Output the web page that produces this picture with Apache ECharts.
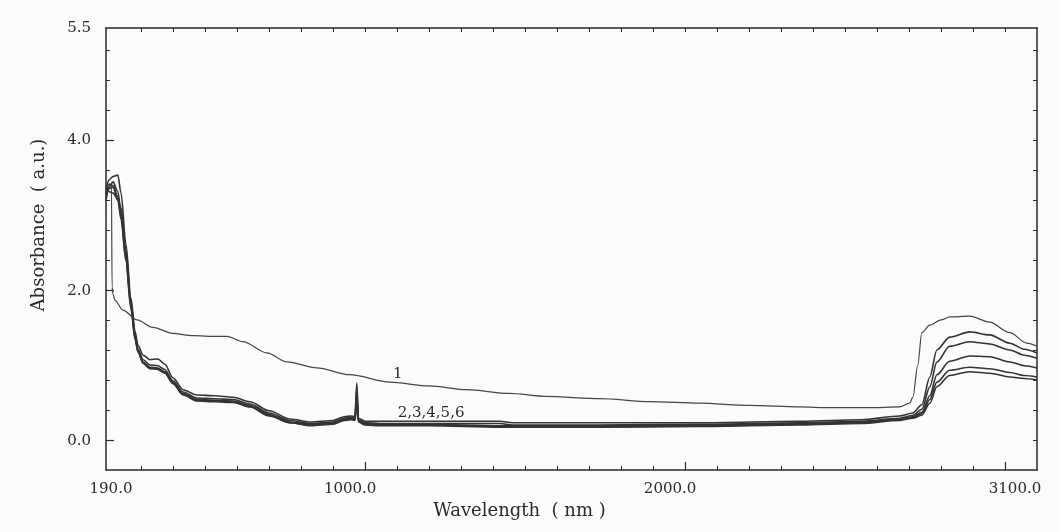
<!DOCTYPE html>
<html>
<head>
<meta charset="utf-8">
<script src="https://cdn.jsdelivr.net/npm/echarts@6/dist/echarts.min.js"></script>
<style>
  html, body { margin: 0; padding: 0; background: #fbfbfb; }
  #chart { width: 1060px; height: 532px; }
</style>
</head>
<body>
<div id="chart"></div>
<script>
// Absorbance spectra, 190–3100 nm
const xTickLabels = [190, 1000, 2000, 3100];
const xMinorTicks = [300, 400, 500, 600, 700, 800, 900, 1000, 1100, 1200, 1300, 1400, 1500, 1600, 1700, 1800, 1900, 2000,
  2100, 2200, 2300, 2400, 2500, 2600, 2700, 2800, 2900, 3000];
const xMajorTicks = [1000, 2000, 3000];
const yTickLabels = [0, 2, 4, 5.5];
const yMinorTicks = [0, 0.4, 0.8, 1.2, 1.6, 2.0, 2.4, 2.8, 3.2, 3.6, 4.0, 4.4, 4.8, 5.2];
const yMajorTicks = [0, 2, 4];

// sample 1
const wavelength1 = [190, 200, 207, 209, 212, 218, 243, 287, 337, 399, 462, 537, 568, 618, 693, 756, 849, 952, 1077, 1200,
  1318, 1450, 1568, 1734, 1890, 2046, 2202, 2359, 2452, 2577, 2671, 2702, 2712, 2727, 2740, 2765, 2800, 2827, 2890, 2952,
  3015, 3068, 3100];
const absorbance1 = [3.25, 3.38, 3.42, 2.05, 1.95, 1.87, 1.74, 1.61, 1.51, 1.43, 1.40, 1.39, 1.39, 1.32, 1.17, 1.05, 0.97,
  0.88, 0.78, 0.73, 0.68, 0.63, 0.59, 0.56, 0.52, 0.50, 0.47, 0.45, 0.44, 0.44, 0.45, 0.50, 0.58, 1.00, 1.44, 1.54, 1.61,
  1.65, 1.66, 1.58, 1.44, 1.30, 1.26];

// samples 2–6 share one wavelength grid
const wavelength = [190, 200, 212, 227, 237, 252, 268, 281, 290, 306, 327, 352, 374, 399, 431, 474, 530, 587, 640, 700,
  765, 830, 900, 935, 955, 968, 974, 979, 1000, 1046, 1200, 1421, 1460, 1734, 2046, 2359, 2550, 2671, 2712, 2740, 2765,
  2787, 2827, 2890, 2952, 3015, 3060, 3100];
const absorbance2 = [3.35, 3.48, 3.52, 3.54, 3.30, 2.63, 1.90, 1.45, 1.27, 1.14, 1.08, 1.09, 1.02, 0.84, 0.68, 0.61,
  0.60, 0.58, 0.52, 0.40, 0.29, 0.25, 0.27, 0.32, 0.33, 0.32, 0.77, 0.30, 0.26, 0.26, 0.26, 0.26, 0.24, 0.24, 0.24, 0.26,
  0.28, 0.33, 0.37, 0.48, 0.85, 1.21, 1.38, 1.45, 1.41, 1.30, 1.22, 1.17];
const absorbance3 = [3.20, 3.38, 3.45, 3.32, 3.05, 2.48, 1.82, 1.40, 1.22, 1.08, 1.01, 1.00, 0.95, 0.80, 0.65, 0.57,
  0.56, 0.55, 0.49, 0.37, 0.27, 0.23, 0.25, 0.30, 0.31, 0.30, 0.70, 0.28, 0.24, 0.23, 0.23, 0.23, 0.21, 0.21, 0.22, 0.24,
  0.26, 0.30, 0.34, 0.42, 0.72, 1.05, 1.26, 1.32, 1.29, 1.21, 1.14, 1.10];
const absorbance4 = [3.40, 3.32, 3.30, 3.22, 3.10, 2.55, 1.85, 1.38, 1.20, 1.05, 0.98, 0.97, 0.92, 0.78, 0.63, 0.55,
  0.54, 0.53, 0.47, 0.35, 0.25, 0.22, 0.24, 0.29, 0.30, 0.29, 0.62, 0.27, 0.23, 0.22, 0.22, 0.20, 0.20, 0.20, 0.21, 0.23,
  0.25, 0.29, 0.32, 0.38, 0.60, 0.88, 1.06, 1.13, 1.12, 1.05, 1.00, 0.97];
const absorbance5 = [3.28, 3.42, 3.40, 3.25, 3.00, 2.42, 1.78, 1.36, 1.19, 1.04, 0.97, 0.96, 0.91, 0.77, 0.62, 0.54,
  0.53, 0.52, 0.46, 0.34, 0.24, 0.21, 0.23, 0.28, 0.29, 0.28, 0.55, 0.26, 0.22, 0.21, 0.21, 0.19, 0.19, 0.19, 0.20, 0.22,
  0.24, 0.28, 0.31, 0.36, 0.55, 0.78, 0.94, 0.98, 0.96, 0.91, 0.87, 0.85];
const absorbance6 = [3.30, 3.36, 3.38, 3.20, 2.95, 2.40, 1.75, 1.35, 1.18, 1.03, 0.96, 0.95, 0.90, 0.76, 0.61, 0.53,
  0.52, 0.51, 0.45, 0.33, 0.24, 0.20, 0.22, 0.27, 0.28, 0.27, 0.50, 0.25, 0.21, 0.20, 0.20, 0.18, 0.18, 0.18, 0.19, 0.21,
  0.23, 0.27, 0.30, 0.34, 0.50, 0.72, 0.87, 0.92, 0.90, 0.85, 0.83, 0.81];

// curve annotations: [text, wavelength, absorbance]
const curveLabels = [['1', 1102, 0.89], ['2,3,4,5,6', 1206, 0.37]];

const FONT = 'DejaVu Serif';
const INK = '#2a2a2a';
const X_MIN = 190, X_MAX = 3100, Y_MIN = -0.39, Y_MAX = 5.5;
const PLOT = { left: 106, right: 23, top: 28, bottom: 62, show: false };

const pair = (xs, ys) => xs.map((x, i) => [x, ys[i]]);

const chart = echarts.init(document.getElementById('chart'), null, { renderer: 'canvas' });

const lineSeries = (name, data, width, color) => ({
  name, type: 'line', data, xAxisIndex: 0, yAxisIndex: 0,
  showSymbol: false, smooth: 0.3, smoothMonotone: 'x',
  lineStyle: { width, color }, z: 3, silent: true
});

const tickOnly = (values, length, width) => ({
  show: true, inside: true, length, customValues: values,
  lineStyle: { color: INK, width }
});

const frameLine = show => ({ show, onZero: false, lineStyle: { color: INK, width: 1.5 } });

const labelRich = {
  a: { fontFamily: FONT, fontSize: 15, color: INK, padding: [0, 0, 0, 10] },
  b: { fontFamily: FONT, fontSize: 15, color: INK, padding: [0, 30, 0, 0] },
  c: { fontFamily: FONT, fontSize: 15, color: INK, padding: [0, 44, 0, 0] }
};

chart.setOption({
  backgroundColor: '#fbfbfb',
  animation: false,
  // grid 0 holds the data; grid 1 overlays it and only carries the long major ticks
  grid: [Object.assign({}, PLOT), Object.assign({}, PLOT)],
  xAxis: [
    {
      gridIndex: 0, type: 'value', min: X_MIN, max: X_MAX, position: 'bottom',
      axisLine: frameLine(true),
      axisTick: tickOnly(xMinorTicks, 4, 1),
      splitLine: { show: false },
      axisLabel: {
        customValues: xTickLabels, margin: 12,
        fontFamily: FONT, fontSize: 15, color: INK,
        formatter: v => {
          const t = v.toFixed(1);
          if (v === 190) return '{a|' + t + '}';
          if (v === 3100) return '{c|' + t + '}';
          return '{b|' + t + '}';
        },
        rich: labelRich
      },
      name: 'Wavelength  ( nm )', nameLocation: 'middle', nameGap: 27,
      nameTextStyle: { fontFamily: FONT, fontSize: 18, color: INK, padding: [0, 104, 0, 0] }
    },
    {
      gridIndex: 0, type: 'value', min: X_MIN, max: X_MAX, position: 'top',
      axisLine: frameLine(true),
      axisTick: tickOnly(xMinorTicks, 4, 1),
      axisLabel: { show: false }, splitLine: { show: false }
    },
    {
      gridIndex: 1, type: 'value', min: X_MIN, max: X_MAX, position: 'bottom',
      axisLine: frameLine(false), axisTick: tickOnly(xMajorTicks, 8, 1.2),
      axisLabel: { show: false }, splitLine: { show: false }
    }
  ],
  yAxis: [
    {
      gridIndex: 0, type: 'value', min: Y_MIN, max: Y_MAX, position: 'left',
      axisLine: frameLine(true),
      axisTick: tickOnly(yMinorTicks, 4, 1),
      splitLine: { show: false },
      axisLabel: {
        customValues: yTickLabels, margin: 15,
        fontFamily: FONT, fontSize: 15, color: INK,
        formatter: v => v.toFixed(1)
      },
      name: 'Absorbance  ( a.u.)', nameLocation: 'middle', nameGap: 58,
      nameTextStyle: { fontFamily: FONT, fontSize: 18, color: INK, padding: [0, 0, 0, 48] }
    },
    {
      gridIndex: 0, type: 'value', min: Y_MIN, max: Y_MAX, position: 'right',
      axisLine: frameLine(true),
      axisTick: tickOnly(yMinorTicks, 4, 1),
      axisLabel: { show: false }, splitLine: { show: false }
    },
    {
      gridIndex: 1, type: 'value', min: Y_MIN, max: Y_MAX, position: 'left',
      axisLine: frameLine(false), axisTick: tickOnly(yMajorTicks, 8, 1.2),
      axisLabel: { show: false }, splitLine: { show: false }
    }
  ],
  series: [
    lineSeries('1', pair(wavelength1, absorbance1), 1.2, '#464646'),
    lineSeries('2', pair(wavelength, absorbance2), 1.6, '#333333'),
    lineSeries('3', pair(wavelength, absorbance3), 1.6, '#333333'),
    lineSeries('4', pair(wavelength, absorbance4), 1.6, '#333333'),
    lineSeries('5', pair(wavelength, absorbance5), 1.6, '#333333'),
    lineSeries('6', pair(wavelength, absorbance6), 1.6, '#333333')
  ]
});

// place the curve annotations at their data coordinates
chart.setOption({
  graphic: curveLabels.map(([text, x, y]) => {
    const [px, py] = chart.convertToPixel({ xAxisIndex: 0, yAxisIndex: 0 }, [x, y]);
    return {
      type: 'text', x: px, y: py, z: 10,
      style: { text, fontFamily: FONT, fontSize: 15, fill: INK, align: 'center', verticalAlign: 'middle' }
    };
  })
});
</script>
</body>
</html>
